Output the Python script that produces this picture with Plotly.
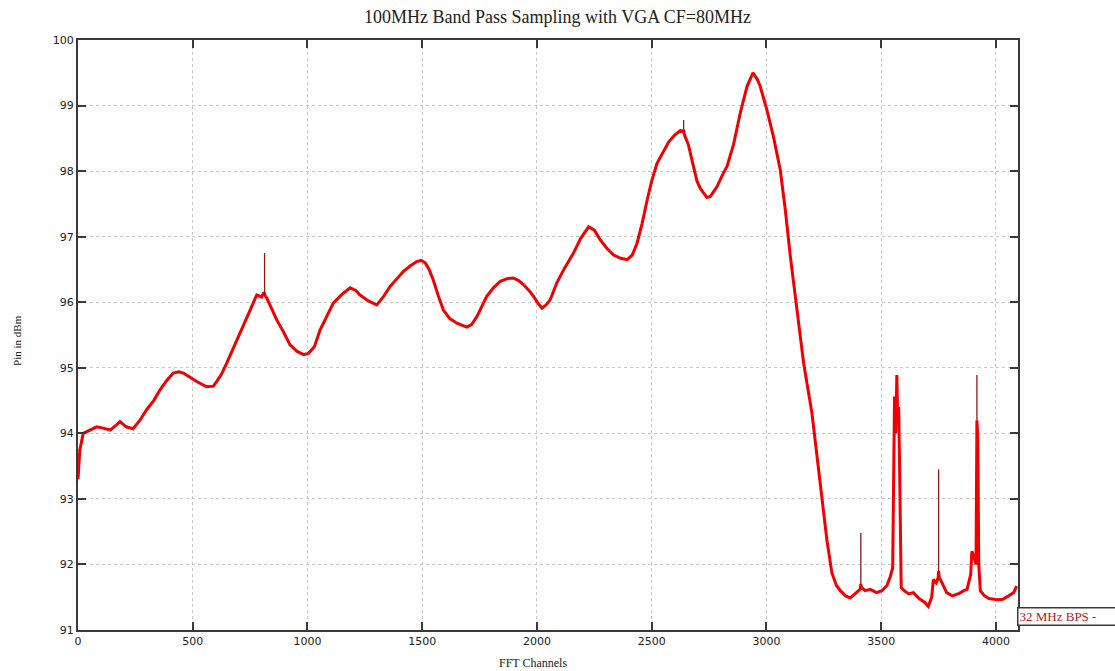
import plotly.graph_objects as go

title_text = "100MHz Band Pass Sampling with VGA CF=80MHz"
x_label = "FFT Channels"
y_label = "Pin in dBm"
legend_label = "32 MHz BPS -"

x_ticks = [0, 500, 1000, 1500, 2000, 2500, 3000, 3500, 4000]
y_ticks = [91, 92, 93, 94, 95, 96, 97, 98, 99, 100]

channels = [
    0, 8, 23, 50, 81, 110, 140, 165, 183, 210, 240, 270, 299, 330, 357, 385,
    415, 440, 459, 490, 517, 561, 590, 604, 625, 648, 670, 692, 720, 750, 779,
    800, 810, 813, 816, 823, 845, 866, 895, 924, 955, 983, 1004, 1030, 1055,
    1085, 1113, 1150, 1186, 1210, 1229, 1265, 1302, 1330, 1360, 1390, 1418,
    1450, 1476, 1495, 1513, 1530, 1548, 1570, 1592, 1620, 1651, 1694, 1715,
    1738, 1760, 1781, 1810, 1840, 1870, 1897, 1920, 1941, 1965, 1985, 2005,
    2022, 2040, 2058, 2087, 2120, 2159, 2190, 2225, 2250, 2276, 2305, 2334,
    2365, 2393, 2415, 2436, 2458, 2480, 2500, 2523, 2550, 2575, 2600, 2625,
    2635, 2639, 2643, 2660, 2680, 2697, 2711, 2740, 2755, 2784, 2812, 2828,
    2856, 2886, 2915, 2941, 2960, 2973, 3002, 3030, 3060, 3082, 3104, 3126,
    3162, 3198, 3234, 3263, 3285, 3305, 3322, 3345, 3365, 3385, 3400, 3408,
    3411, 3414, 3430, 3452, 3480, 3503, 3525, 3540, 3550, 3555, 3558, 3563,
    3568, 3572, 3576, 3580, 3583, 3587, 3600, 3620, 3640, 3665, 3690, 3705,
    3720, 3727, 3740, 3748, 3750, 3753, 3765, 3785, 3810, 3840, 3860, 3874,
    3890, 3895, 3905, 3913, 3917, 3921, 3925, 3932, 3950, 3970, 4005, 4030,
    4055, 4077, 4090,
]

pin_dbm = [
    93.3, 93.75, 94.0, 94.05, 94.1, 94.08, 94.05, 94.12, 94.18, 94.1, 94.07,
    94.2, 94.36, 94.5, 94.66, 94.8, 94.92, 94.94, 94.92, 94.85, 94.79, 94.71,
    94.72, 94.79, 94.9, 95.07, 95.25, 95.43, 95.65, 95.88, 96.11, 96.08, 96.15,
    96.12, 96.1, 96.06, 95.9, 95.73, 95.55, 95.35, 95.25, 95.2, 95.22, 95.32,
    95.58, 95.8, 95.99, 96.12, 96.22, 96.18, 96.11, 96.02, 95.96, 96.08, 96.24,
    96.36, 96.47, 96.56, 96.62, 96.64, 96.6, 96.5, 96.34, 96.1, 95.88, 95.75,
    95.68, 95.62, 95.66, 95.78, 95.95, 96.09, 96.22, 96.32, 96.36, 96.37, 96.33,
    96.27, 96.18, 96.09, 95.98, 95.91, 95.96, 96.04, 96.3, 96.52, 96.75, 96.97,
    97.15, 97.1, 96.95, 96.82, 96.72, 96.67, 96.65, 96.72, 96.9, 97.2, 97.56,
    97.85, 98.12, 98.3, 98.45, 98.55, 98.62, 98.6, 98.63, 98.55, 98.4, 98.1,
    97.85, 97.74, 97.6, 97.61, 97.76, 97.97, 98.07, 98.4, 98.89, 99.29, 99.5,
    99.4, 99.29, 98.93, 98.53, 98.02, 97.41, 96.7, 96.1, 95.07, 94.31, 93.19,
    92.38, 91.87, 91.68, 91.6, 91.52, 91.49, 91.55, 91.59, 91.62, 91.7, 91.65,
    91.6, 91.62, 91.57, 91.6, 91.68, 91.82, 91.95, 93.9, 94.56, 94.0, 94.89,
    94.2, 94.4, 93.5, 92.58, 91.65, 91.6, 91.55, 91.57, 91.48, 91.42, 91.36,
    91.5, 91.77, 91.72, 91.8, 91.9, 91.8, 91.72, 91.57, 91.52, 91.56, 91.6,
    91.62, 91.85, 92.2, 92.1, 92.0, 94.2, 93.9, 92.0, 91.6, 91.52, 91.48,
    91.46, 91.47, 91.52, 91.57, 91.67,
]

# narrow single-channel spikes (drawn thin, dark)
spike_channels = [813, 2639, 3411, 3750, 3917]
spike_bases = [96.12, 98.63, 91.7, 91.9, 94.2]
spike_tops = [96.75, 98.78, 92.48, 93.45, 94.89]

spike_x, spike_y = [], []
for c, b, t in zip(spike_channels, spike_bases, spike_tops):
    spike_x += [c, c, None]
    spike_y += [b, t, None]

fig = go.Figure()
fig.add_trace(go.Scatter(
    x=channels, y=pin_dbm, mode="lines",
    line=dict(color="#f00000", width=3),
    showlegend=False, hoverinfo="skip",
))
fig.add_trace(go.Scatter(
    x=spike_x, y=spike_y, mode="lines",
    line=dict(color="#8a1a1a", width=1.3),
    showlegend=False, hoverinfo="skip",
))

axis_common = dict(
    showline=True, linewidth=2, linecolor="#3a3a3a", mirror="ticks",
    ticks="inside", ticklen=8, tickwidth=2, tickcolor="#3a3a3a",
    showgrid=True, gridcolor="#c8c8c8", griddash="dot", gridwidth=1,
    zeroline=False,
    tickfont=dict(family="DejaVu Sans", size=11, color="#222222"),
)

fig.update_xaxes(range=[0, 4096], tickvals=x_ticks,
                 ticktext=[str(v) for v in x_ticks], **axis_common)
fig.update_yaxes(range=[91, 100], tickvals=y_ticks,
                 ticktext=[str(v) for v in y_ticks], **axis_common)

fig.update_layout(
    width=1115, height=671,
    margin=dict(l=78, r=97, t=40, b=41),
    paper_bgcolor="white", plot_bgcolor="white",
    title=dict(text=title_text, x=0.5, xanchor="center", y=0.975,
               yanchor="middle",
               font=dict(family="Liberation Serif", size=18, color="#222222")),
    annotations=[
        dict(text=x_label, xref="paper", yref="paper", x=0.484, y=-0.056,
             xanchor="center", yanchor="middle", showarrow=False,
             font=dict(family="Liberation Serif", size=12, color="#222222")),
        dict(text=y_label, xref="paper", yref="paper", x=-0.065, y=0.4915,
             xanchor="center", yanchor="middle", showarrow=False,
             textangle=-90,
             font=dict(family="Liberation Serif", size=11, color="#222222")),
        dict(text=legend_label, xref="paper", yref="paper", x=0.999, y=0.0237,
             xanchor="left", yanchor="middle", showarrow=False, align="left",
             width=120, height=14, bordercolor="#3a3a3a", borderwidth=1.5,
             borderpad=1, bgcolor="white",
             font=dict(family="Liberation Serif", size=13, color="#c01818")),
    ],
)

fig.write_html("out.html")
